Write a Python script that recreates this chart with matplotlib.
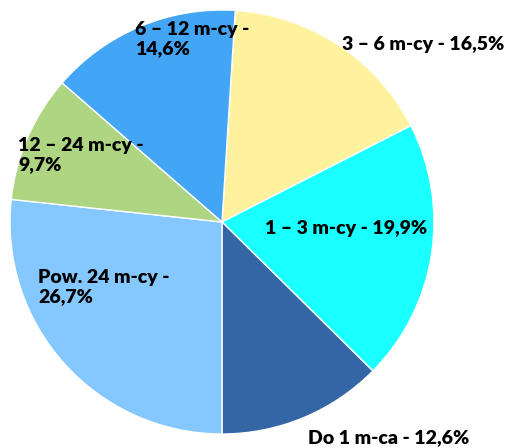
import matplotlib.pyplot as plt

# slice data, clockwise from the top
labels = ['3 – 6 m-cy - 16,5%', '1 – 3 m-cy - 19,9%', 'Do 1 m-ca - 12,6%',
          'Pow. 24 m-cy -\n26,7%', '12 – 24 m-cy -\n9,7%', '6 – 12 m-cy -\n14,6%']
values = [16.5, 19.9, 12.6, 26.7, 9.7, 14.6]
colors = ['#FFF29E', '#1AFFFF', '#3465A5', '#85C8FF', '#AED581', '#42A5F5']

# label anchor (left edge, vertical centre) in pie-radius units
label_pos = [(0.566, 0.835), (0.203, -0.033), (0.406, -1.019),
             (-0.868, -0.307), (-0.962, 0.316), (-0.41, 0.863)]

W, H = 507, 448
cx, cy, r = 222, 222, 212

fig = plt.figure(figsize=(W / 100, H / 100), dpi=100)
ax = fig.add_axes([(cx - r) / W, (H - cy - r) / H, 2 * r / W, 2 * r / H])

# first three slices end at straight down
start = 270 + sum(values[:3]) * 3.6
ax.pie(values, colors=colors, startangle=start, counterclock=False,
       wedgeprops=dict(edgecolor='white', linewidth=1))
ax.set_xlim(-1, 1)
ax.set_ylim(-1, 1)
ax.set_aspect('equal')
ax.axis('off')

for lab, (x, y) in zip(labels, label_pos):
    ax.text(x, y, lab, ha='left', va='center', fontsize=14, fontweight='heavy',
            family='Lato', color='black', clip_on=False, linespacing=1.1)

fig.savefig('out.png', dpi=100)
